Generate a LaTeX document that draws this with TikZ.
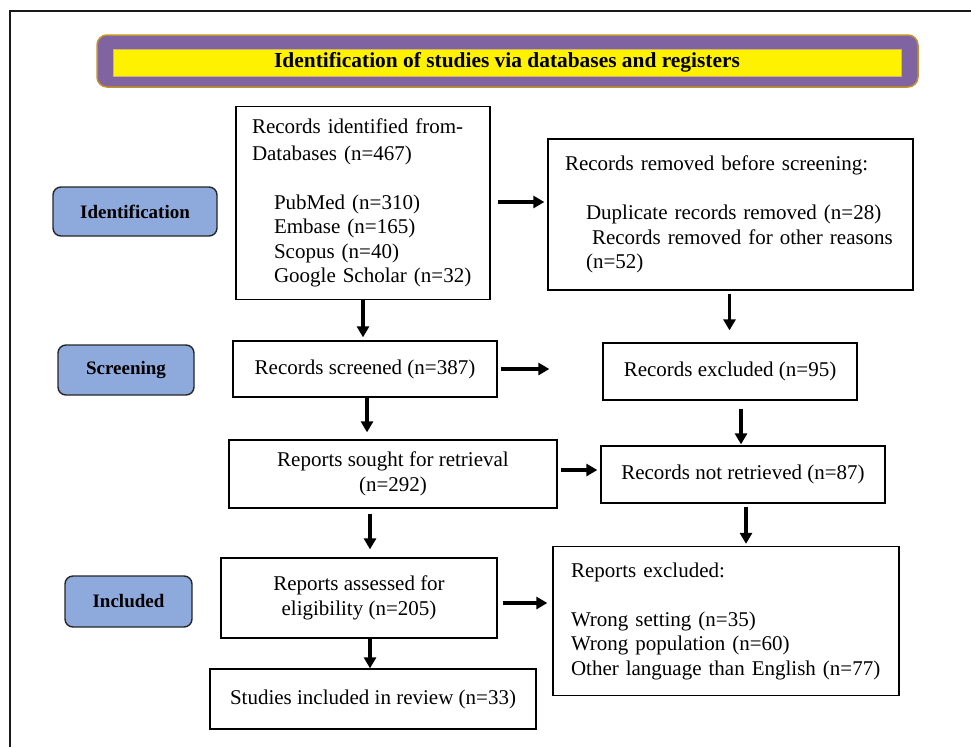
\documentclass[tikz,border=0pt]{standalone}
\usepackage{fontspec}
\setmainfont{Liberation Serif}
\usetikzlibrary{arrows.meta,calc}
\definecolor{hdrpurple}{RGB}{128,100,162}
\definecolor{hdrgold}{RGB}{196,146,40}
\definecolor{stagefill}{RGB}{142,169,219}
\definecolor{stageline}{RGB}{38,38,38}
\tikzset{
	prbox/.style={draw=black,line width=1.3pt,fill=white,inner sep=0pt,align=center,font=\fontsize{21}{24.5}\selectfont},
	stage/.style={draw=stageline,line width=1.4pt,rounded corners=8pt,fill=stagefill,font=\fontsize{19}{22}\selectfont\bfseries},
	flow/.style={line width=3.4pt,-{Triangle[length=11pt,width=12pt]}},
}
\begin{document}
\begin{tikzpicture}[x=1pt,y=1pt,yscale=-1]
	\useasboundingbox (0,0) rectangle (971,747);
	
	%Frame
	\draw [line width=1.2pt,color={rgb,255:red,25;green,25;blue,25}] (971,11) -- (10,11) -- (10,747) ;
	
	%Header
	\node [draw=hdrgold,line width=1.5pt,fill=hdrpurple,rounded corners=10pt,minimum width=821,minimum height=52] (hdr) at (507.5,61) {};
	\node [draw=hdrgold!70,line width=0.6pt,fill=yellow,minimum width=788,minimum height=27,inner sep=0pt,font=\fontsize{21.4}{24}\selectfont\bfseries] (hdrtitle) at (507,62.5) {Identification of studies via databases and registers};
	
	%Stage labels
	\node [stage,minimum width=164,minimum height=49] (identlab) at (135,211.5) {Identification};
	\node [stage,minimum width=136,minimum height=50] (screenlab) at (126,370) {Screening};
	\node [stage,minimum width=127,minimum height=51] (inclab) at (128.5,601.5) {Included};
	
	%Boxes, left column
	\node [prbox,align=left,inner xsep=16pt,text width=222pt,minimum height=193] (recid) at (363,203) {Records identified from-\\[2.5pt]Databases (n=467)\\[24.5pt]
		\hspace*{22pt}PubMed (n=310)\\ \hspace*{22pt}Embase (n=165)\\ \hspace*{22pt}Scopus (n=40)\\ \hspace*{22pt}Google Scholar (n=32)};
	\node [prbox,minimum width=264,minimum height=56] (screened) at (365,369) {Records screened (n=387)};
	\node [prbox,minimum width=328,minimum height=68] (sought) at (393,474) {Reports sought for retrieval\\(n=292)};
	\node [prbox,minimum width=276,minimum height=80] (assessed) at (359,598) {Reports assessed for\\eligibility (n=205)};
	\node [prbox,minimum width=326,minimum height=60] (included) at (373,699) {Studies included in review (n=33)};
	
	%Boxes, right column
	\node [prbox,align=left,inner xsep=17pt,text width=331pt,minimum height=151] (removed) at (730.5,214.5) {Records removed before screening:\\[24.5pt]
		\hspace*{21pt}Duplicate records removed (n=28)\\ \hspace*{27pt}Records removed for other reasons\\ \hspace*{21pt}(n=52)};
	\node [prbox,minimum width=254,minimum height=57] (excluded) at (730,371.5) {Records excluded (n=95)};
	\node [prbox,minimum width=284,minimum height=57] (fetched) at (743,474.5) {Records not retrieved (n=87)};
	\node [prbox,align=left,inner xsep=18pt,text width=310pt,minimum height=149] (reportsout) at (726,621) {Reports excluded:\\[24.5pt]
		Wrong setting (n=35)\\ Wrong population (n=60)\\ Other language than English (n=77)};
	
	%Arrows
	\draw [flow] ($(recid.east)+(7,-1)$) -- ($(recid.east -| removed.west)+(-3,-1)$) ;
	\draw [flow] (recid.south) -- ($(recid.south |- screened.north)+(0,-3)$) ;
	\draw [flow] ($(removed.south)+(-1,3)$) -- ($(removed.south |- excluded.north)+(-1,-12)$) ;
	\draw [flow] ($(screened.east)+(3,0)$) -- ($(screened.east -| excluded.west)+(-53,0)$) ;
	\draw [flow] ($(screened.south)+(2,0)$) -- ($(screened.south |- sought.north)+(2,-7)$) ;
	\draw [flow] ($(excluded.south)+(11,8)$) -- ($(excluded.south |- fetched.north)+(11,-1)$) ;
	\draw [flow] ($(sought.east)+(3,-4)$) -- ($(sought.east -| fetched.west)+(-3,-4)$) ;
	\draw [flow] ($(sought.south)+(-23,5)$) -- ($(sought.south |- assessed.north)+(-23,-8)$) ;
	\draw [flow] ($(fetched.south)+(3,3)$) -- ($(fetched.south |- reportsout.north)+(3,-2)$) ;
	\draw [flow] ($(assessed.east)+(5,5)$) -- ($(assessed.east -| reportsout.west)+(-5,5)$) ;
	\draw [flow] ($(assessed.south)+(11,0)$) -- ($(assessed.south |- included.north)+(11,0)$) ;
	
\end{tikzpicture}
\end{document}
